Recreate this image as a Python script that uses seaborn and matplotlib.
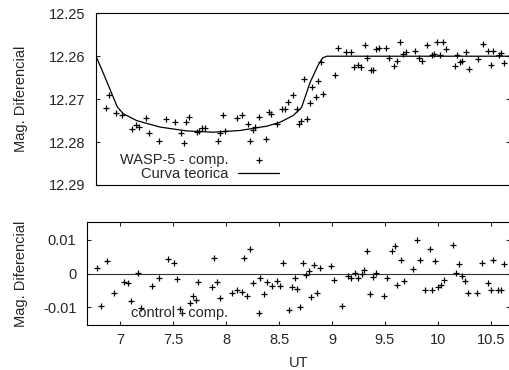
import matplotlib
matplotlib.use("Agg")
import matplotlib.pyplot as plt
import seaborn as sns
import pandas as pd

sns.set_style("ticks")
plt.rcParams["font.family"] = ["Liberation Sans", "DejaVu Sans"]
plt.rcParams["font.size"] = 10.5

# Pontos WASP-5 - comp. (UT, magnitude diferencial)
ut_wasp = [6.865, 6.899, 6.959, 7.019, 7.113, 7.154, 7.182, 7.245, 7.276, 7.371,
           7.434, 7.522, 7.575, 7.601, 7.623, 7.648, 7.724, 7.748, 7.776, 7.799,
           7.927, 7.946, 7.972, 7.994, 8.104, 8.154, 8.205, 8.226, 8.252, 8.274,
           8.308, 8.375, 8.406, 8.427, 8.481, 8.531, 8.557, 8.582, 8.635, 8.667,
           8.689, 8.710, 8.739, 8.767, 8.795, 8.814, 8.846, 8.871, 8.896, 8.918,
           9.031, 9.054, 9.132, 9.182, 9.208, 9.245, 9.274, 9.311, 9.333, 9.365,
           9.390, 9.415, 9.441, 9.512, 9.538, 9.588, 9.613, 9.642, 9.670, 9.695,
           9.780, 9.824, 9.846, 9.896, 9.941, 9.962, 9.993, 10.016, 10.044, 10.075,
           10.158, 10.179, 10.208, 10.229, 10.261, 10.290, 10.377, 10.427, 10.474, 10.503,
           10.522, 10.573, 10.594, 10.623]
mag_wasp = [12.2720, 12.2690, 12.2733, 12.2737, 12.2770, 12.2761, 12.2764, 12.2743, 12.2780, 12.2798,
            12.2747, 12.2754, 12.2780, 12.2801, 12.2754, 12.2741, 12.2777, 12.2774, 12.2767, 12.2767,
            12.2798, 12.2780, 12.2737, 12.2774, 12.2743, 12.2737, 12.2757, 12.2797, 12.2771, 12.2766,
            12.2741, 12.2794, 12.2730, 12.2735, 12.2757, 12.2723, 12.2723, 12.2707, 12.2691, 12.2723,
            12.2758, 12.2751, 12.2654, 12.2746, 12.2710, 12.2671, 12.2694, 12.2657, 12.2613, 12.2687,
            12.2643, 12.2581, 12.2591, 12.2591, 12.2624, 12.2621, 12.2624, 12.2574, 12.2604, 12.2633,
            12.2633, 12.2583, 12.2581, 12.2581, 12.2604, 12.2623, 12.2610, 12.2568, 12.2594, 12.2591,
            12.2587, 12.2604, 12.2610, 12.2574, 12.2597, 12.2594, 12.2568, 12.2597, 12.2568, 12.2583,
            12.2623, 12.2597, 12.2613, 12.2610, 12.2591, 12.2630, 12.2606, 12.2571, 12.2587, 12.2620,
            12.2587, 12.2597, 12.2593, 12.2616]

# Curva teorica
ut_curva = [6.774, 6.842, 6.906, 6.975, 7.031, 7.158, 7.377, 7.629, 7.880, 8.132,
            8.384, 8.509, 8.635, 8.714, 8.792, 8.871, 8.912, 8.950, 10.675]
mag_curva = [12.2600, 12.2639, 12.2677, 12.2718, 12.2734, 12.2750, 12.2765, 12.2774, 12.2777, 12.2773,
             12.2763, 12.2754, 12.2738, 12.2719, 12.2662, 12.2620, 12.2604, 12.2600, 12.2600]

# control - comp.
ut_ctrl = [6.786, 6.818, 6.877, 6.941, 7.038, 7.078, 7.107, 7.170, 7.201, 7.302,
           7.365, 7.453, 7.509, 7.535, 7.566, 7.588, 7.660, 7.686, 7.714, 7.739,
           7.868, 7.890, 7.912, 7.941, 8.054, 8.101, 8.148, 8.173, 8.201, 8.226,
           8.255, 8.324, 8.356, 8.384, 8.434, 8.484, 8.512, 8.541, 8.592, 8.623,
           8.648, 8.673, 8.701, 8.726, 8.755, 8.780, 8.805, 8.830, 8.856, 8.884,
           8.993, 9.019, 9.097, 9.151, 9.176, 9.217, 9.245, 9.280, 9.305, 9.333,
           9.358, 9.387, 9.412, 9.491, 9.516, 9.566, 9.592, 9.616, 9.648, 9.676,
           9.761, 9.802, 9.830, 9.880, 9.922, 9.946, 9.975, 10.003, 10.028, 10.057,
           10.142, 10.170, 10.198, 10.226, 10.255, 10.280, 10.368, 10.418, 10.472, 10.497,
           10.522, 10.569, 10.594, 10.620]
res_ctrl = [0.0016, -0.0097, 0.0038, -0.0056, -0.0025, -0.0029, -0.0082, 0.0001, -0.0102, -0.0036,
            -0.0014, 0.0044, 0.0031, -0.0017, -0.0105, -0.0115, -0.0087, -0.0066, -0.0078, -0.0025,
            -0.0040, 0.0047, -0.0025, -0.0072, -0.0056, -0.0049, -0.0053, 0.0047, -0.0066, 0.0073,
            -0.0029, -0.0014, -0.0061, -0.0025, -0.0036, -0.0023, -0.0036, 0.0031, -0.0109, -0.0040,
            -0.0014, -0.0044, -0.0099, 0.0033, -0.0004, 0.0008, -0.0070, 0.0027, -0.0056, 0.0016,
            0.0023, -0.0020, -0.0096, -0.0007, -0.0014, 0.0002, -0.0014, -0.0002, 0.0011, 0.0067,
            -0.0060, -0.0010, 0.0002, -0.0066, -0.0014, 0.0067, 0.0081, -0.0033, 0.0040, -0.0023,
            0.0013, 0.0100, 0.0040, -0.0047, 0.0073, -0.0049, 0.0037, -0.0040, -0.0033, -0.0020,
            0.0084, 0.0002, 0.0030, -0.0007, -0.0023, -0.0056, -0.0056, 0.0033, -0.0027, -0.0047,
            0.0040, -0.0049, -0.0049, 0.0030]

ticks_top = [12.25, 12.26, 12.27, 12.28, 12.29]
ticks_bot = [-0.01, 0, 0.01]
ticks_bot_lab = ["-0.01", "0", "0.01"]
ticks_x = [7, 7.5, 8, 8.5, 9, 9.5, 10, 10.5]
ticks_x_lab = ["7", "7.5", "8", "8.5", "9", "9.5", "10", "10.5"]

df_wasp = pd.DataFrame({"ut": ut_wasp, "mag": mag_wasp})
df_curva = pd.DataFrame({"ut": ut_curva, "mag": mag_curva})
df_ctrl = pd.DataFrame({"ut": ut_ctrl, "res": res_ctrl})

fig = plt.figure(figsize=(5.09, 3.70), dpi=100)
ax1 = fig.add_axes([0.1886, 0.5, 0.8124, 0.4641])
ax2 = fig.add_axes([0.1719, 0.1216, 0.8291, 0.2776])

# painel de cima
sns.scatterplot(data=df_wasp, x="ut", y="mag", marker="+", color="black",
                s=14, linewidth=0.9, ax=ax1, label="WASP-5 - comp.")
sns.lineplot(data=df_curva, x="ut", y="mag", color="black", linewidth=0.9,
             ax=ax1, label="Curva teorica")
ax1.set_xlim(6.774, 10.675)
ax1.set_ylim(12.29, 12.25)
ax1.set_yticks(ticks_top)
ax1.set_yticklabels([f"{t:.2f}" for t in ticks_top])
ax1.tick_params(axis="x", bottom=False, top=False, labelbottom=False)
ax1.tick_params(axis="y", direction="in", left=True, right=True, length=3, width=0.8, pad=8)
ax1.set_xlabel("")
ax1.set_ylabel("Mag. Diferencial")
ax1.yaxis.set_label_coords(-0.165, 0.5)
ax1.legend(loc="center right", bbox_to_anchor=(0.4426, 0.1048), markerfirst=False,
           frameon=False, borderpad=0, handlelength=2.8, handletextpad=0.68,
           labelspacing=0.02, borderaxespad=0)

# painel de baixo
sns.scatterplot(data=df_ctrl, x="ut", y="res", marker="+", color="black",
                s=14, linewidth=0.9, ax=ax2, label="control - comp.")
ax2.axhline(0, color="#333333", linewidth=0.8, zorder=0)
ax2.set_xlim(6.693, 10.675)
ax2.set_ylim(-0.0152, 0.0152)
ax2.set_yticks(ticks_bot)
ax2.set_yticklabels(ticks_bot_lab)
ax2.set_xticks(ticks_x)
ax2.set_xticklabels(ticks_x_lab)
ax2.tick_params(axis="both", direction="in", left=True, right=True, top=True, bottom=True,
                length=3, width=0.8)
ax2.tick_params(axis="y", pad=8)
ax2.tick_params(axis="x", pad=6)
ax2.set_xlabel("UT")
ax2.set_ylabel("Mag. Diferencial")
ax2.yaxis.set_label_coords(-0.1415, 0.5)
ax2.xaxis.set_label_coords(0.5, -0.305)
ax2.legend(loc="center right", bbox_to_anchor=(0.4538, 0.1168), markerfirst=False,
           frameon=False, borderpad=0, handlelength=2.8, handletextpad=0.68,
           borderaxespad=0)

for ax in (ax1, ax2):
    for sp in ax.spines.values():
        sp.set_linewidth(0.8)
        sp.set_color("black")

fig.savefig("out.png", dpi=100)
